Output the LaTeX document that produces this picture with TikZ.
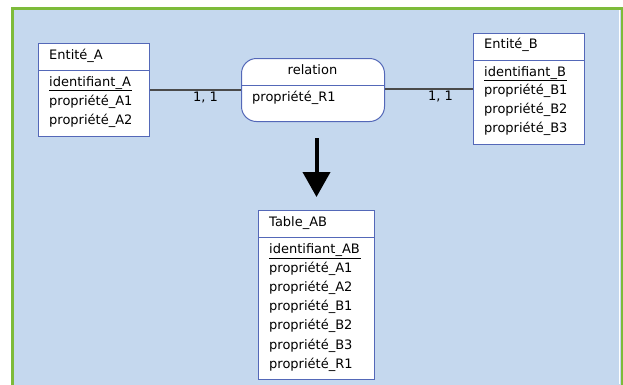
\documentclass[tikz,border=0pt]{standalone}
\usepackage{fontspec}
\setmainfont{DejaVu Sans}
\usetikzlibrary{arrows.meta}
\definecolor{panelblue}{HTML}{C5D8EE}
\definecolor{framegreen}{HTML}{7DBB3A}
\definecolor{boxblue}{HTML}{5468B8}
\definecolor{linkgray}{HTML}{4A4A4A}
\begin{document}
\begin{tikzpicture}[x=1pt,y=-1pt,
  box/.style={draw=boxblue, fill=white, line width=1pt, inner sep=0pt, anchor=north west},
  divider/.style={draw=boxblue, line width=1pt},
  txt/.style={anchor=base west, inner sep=0pt, font=\fontsize{13}{15}\selectfont},
  keyline/.style={draw=black, line width=1pt},
  link/.style={draw=linkgray, line width=1.6pt},
  bigarrow/.style={line width=4pt, -{Triangle[width=27pt,length=25pt]}}]
\useasboundingbox (0,0) rectangle (623,384);
\fill[white] (0,0) rectangle (623,384);
% panel
\draw[draw=framegreen, fill=panelblue, line width=3pt] (12.5,8.5) rectangle (622,420);
\draw[white, line width=1.2pt] (619.6,10) -- (619.6,384);

% entity A
\node[box, minimum width=111pt, minimum height=93pt] (entA) at (38,43) {};
\draw[divider] (entA.west |- 0,70) -- (entA.east |- 0,70);
\node[txt] (entAname) at (49,59.5) {Entité\_A};
\node[txt] (idA) at (49,86) {identifiant\_A};
\draw[keyline] ([yshift=-4.7pt]idA.base west) -- ([yshift=-4.7pt,xshift=1pt]idA.base east);
\node[txt] (pA1) at (49,105.5) {propriété\_A1};
\node[txt] (pA2) at (49,124.5) {propriété\_A2};

% relation
\node[box, rounded corners=15pt, minimum width=143pt, minimum height=63pt] (rel) at (241,58) {};
\draw[divider] (rel.west |- 0,85) -- (rel.east |- 0,85);
\node[txt, anchor=base] (relname) at (312.5,74) {relation};
\node[txt] (pR1) at (252,101.7) {propriété\_R1};

% entity B
\node[box, minimum width=111pt, minimum height=111pt] (entB) at (473,33) {};
\draw[divider] (entB.west |- 0,60) -- (entB.east |- 0,60);
\node[txt] (entBname) at (484,48.7) {Entité\_B};
\node[txt] (idB) at (484,76) {identifiant\_B};
\draw[keyline] ([yshift=-4.7pt]idB.base west) -- ([yshift=-4.7pt,xshift=1pt]idB.base east);
\node[txt] (pB1) at (484,94.5) {propriété\_B1};
\node[txt] (pB2) at (484,113.5) {propriété\_B2};
\node[txt] (pB3) at (484,132.5) {propriété\_B3};

% links and cardinalities
\draw[link] (entA.east |- 0,89.7) -- (rel.west |- 0,89.7);
\draw[link] (rel.east |- 0,89) -- (entB.west |- 0,89);
\node[txt] (cardA) at (193,101.7) {1, 1};
\node[txt] (cardB) at (428,100.7) {1, 1};

% resulting table
\node[box, minimum width=116pt, minimum height=169pt] (tab) at (258,210) {};
\draw[divider] (tab.west |- 0,237) -- (tab.east |- 0,237);
\node[txt] (tabname) at (269,226) {Table\_AB};
\node[txt] (idAB) at (269,253.3) {identifiant\_AB};
\draw[keyline] ([yshift=-4.7pt]idAB.base west) -- ([yshift=-4.7pt,xshift=1pt]idAB.base east);
\node[txt] (tA1) at (269,272.7) {propriété\_A1};
\node[txt] (tA2) at (269,291.7) {propriété\_A2};
\node[txt] (tB1) at (269,310.7) {propriété\_B1};
\node[txt] (tB2) at (269,329.7) {propriété\_B2};
\node[txt] (tB3) at (269,349) {propriété\_B3};
\node[txt] (tR1) at (269,368) {propriété\_R1};

% transformation arrow
\draw[bigarrow] ([yshift=-16pt]rel.south -| tab.north) -- ([yshift=13pt]tab.north);
\end{tikzpicture}
\end{document}
